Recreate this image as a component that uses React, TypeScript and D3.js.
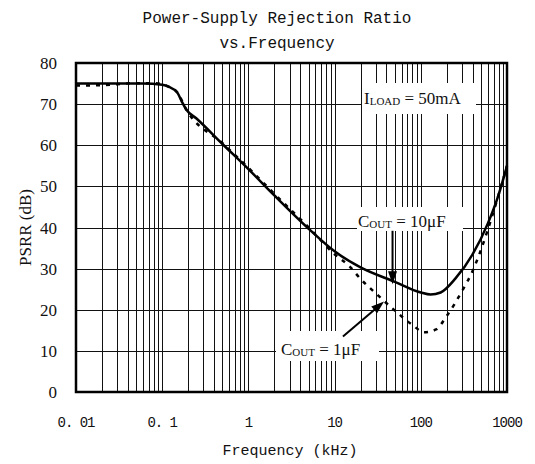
import React from "react";
import * as d3 from "d3";

// Frequency (kHz) and PSRR (dB)
const freq10uF = [0.01, 0.03, 0.06, 0.1, 0.12, 0.15, 0.17, 0.19, 0.25, 0.5, 1, 2, 5, 10, 20, 50, 100, 130, 170, 250, 400, 600, 800, 1000];
const psrr10uF = [75, 75, 75, 74.7, 74.2, 72.8, 70.5, 68.7, 66.5, 60.3, 54.2, 47.8, 39.7, 34.2, 30.3, 26.8, 24.2, 23.7, 24.2, 27.5, 33.5, 41, 48, 55];

const freq1uF = [0.01, 0.02, 0.05, 0.08, 0.1, 0.12, 0.15, 0.19, 0.5, 1, 2, 5, 10, 15, 20, 30, 50, 80, 110, 150, 200, 300, 400, 600, 800, 1000];
const psrr1uF = [74.5, 74.6, 75.1, 75.1, 74.8, 74.2, 72.8, 68.7, 60.5, 54.5, 48.2, 40, 33.5, 30.5, 27.5, 24, 19.8, 16.3, 14.5, 15.2, 18.5, 24.5, 29.5, 39.5, 48, 55];

const xTicks = [0.01, 0.1, 1, 10, 100, 1000];
const xTickLabels = ["0. 01", "0. 1", "1", "10", "100", "1000"];
const yTicks = [0, 10, 20, 30, 40, 50, 60, 70, 80];

const W = 535, H = 464;
const M = { left: 76, right: 507, top: 63, bottom: 392 };

export default function App() {
  const x = d3.scaleLog().domain([0.01, 1000]).range([M.left, M.right]);
  const y = d3.scaleLinear().domain([0, 80]).range([M.bottom, M.top]);

  const minor: number[] = [];
  for (let k = -2; k < 3; k++) {
    for (let m = 1; m <= 9; m++) minor.push(m * Math.pow(10, k));
  }
  minor.push(1000);

  const line = d3
    .line<[number, number]>()
    .x((d) => x(d[0]))
    .y((d) => y(d[1]))
    .curve(d3.curveMonotoneX);

  const solid = line(freq10uF.map((f, i) => [f, psrr10uF[i]] as [number, number])) || "";
  const dotted = line(freq1uF.map((f, i) => [f, psrr1uF[i]] as [number, number])) || "";

  const px = (v: number) => Math.round(v) + 0.5;

  // annotation anchors in data space
  const a1x = x(47), a1y0 = y(39.2), a1y1 = y(26.2);
  const a2x0 = x(12.5), a2y0 = y(13.5), a2x1 = x(37.5), a2y1 = y(22);

  const head = (x0: number, y0: number, x1: number, y1: number, len = 13, w = 4.5) => {
    const ang = Math.atan2(y1 - y0, x1 - x0);
    const bx = x1 - len * Math.cos(ang), by = y1 - len * Math.sin(ang);
    const nx = -Math.sin(ang) * w, ny = Math.cos(ang) * w;
    return `M${x1},${y1}L${bx + nx},${by + ny}L${bx - nx},${by - ny}Z`;
  };
  const shorten = (x0: number, y0: number, x1: number, y1: number, s: number) => {
    const ang = Math.atan2(y1 - y0, x1 - x0);
    return [x1 - s * Math.cos(ang), y1 - s * Math.sin(ang)];
  };
  const [a1ex, a1ey] = shorten(a1x, a1y0, a1x, a1y1, 10);
  const [a2ex, a2ey] = shorten(a2x0, a2y0, a2x1, a2y1, 10);

  const serif = "'Liberation Serif', 'Times New Roman', serif";
  const mono = "'Liberation Mono', monospace";

  return (
    <svg width={W} height={H} style={{ position: "absolute", left: 0, top: 0, background: "#fff" }}>
      <rect x={0} y={0} width={W} height={H} fill="#fff" />
      {/* title */}
      <text x={277} y={23} textAnchor="middle" fontFamily={mono} fontSize={16} fill="#111">
        Power-Supply Rejection Ratio
      </text>
      <text x={277} y={48} textAnchor="middle" fontFamily={mono} fontSize={16} fill="#111">
        vs.Frequency
      </text>

      {/* grid */}
      {minor.map((f, i) => (
        <line key={"v" + i} x1={px(x(f))} x2={px(x(f))} y1={M.top} y2={M.bottom} stroke="#111" strokeWidth={1} />
      ))}
      {yTicks.slice(1, -1).map((t) => (
        <line key={"h" + t} x1={M.left} x2={M.right} y1={px(y(t))} y2={px(y(t))} stroke="#111" strokeWidth={1} />
      ))}

      {/* label boxes */}
      <rect x={362} y={83} width={114} height={31} fill="#fff" />
      <rect x={357} y={207} width={106} height={24} fill="#fff" />
      <rect x={276} y={331} width={103} height={30} fill="#fff" />

      {/* frame */}
      <rect x={M.left} y={M.top} width={M.right - M.left} height={M.bottom - M.top} fill="none" stroke="#000" strokeWidth={2.5} />

      {/* curves */}
      <path d={dotted} fill="none" stroke="#000" strokeWidth={2.5} strokeDasharray="4,6" />
      <path d={solid} fill="none" stroke="#000" strokeWidth={2.5} />

      {/* arrows */}
      <line x1={a1x} y1={a1y0} x2={a1ex} y2={a1ey} stroke="#000" strokeWidth={2} />
      <path d={head(a1x, a1y0, a1x, a1y1)} fill="#000" />
      <line x1={a2x0} y1={a2y0} x2={a2ex} y2={a2ey} stroke="#000" strokeWidth={2} />
      <path d={head(a2x0, a2y0, a2x1, a2y1)} fill="#000" />

      {/* annotations */}
      <text x={364} y={104} fontFamily={serif} fontSize={17} fill="#111">
        I<tspan fontSize={11} dy={1}>LOAD</tspan>
        <tspan dy={-1}> = 50mA</tspan>
      </text>
      <text x={358} y={227} fontFamily={serif} fontSize={17} fill="#111">
        C<tspan fontSize={11} dy={1}>OUT</tspan>
        <tspan dy={-1}> = 10μF</tspan>
      </text>
      <text x={281} y={355} fontFamily={serif} fontSize={17} fill="#111">
        C<tspan fontSize={11} dy={1}>OUT</tspan>
        <tspan dy={-1}> = 1μF</tspan>
      </text>

      {/* y ticks */}
      {yTicks.map((t) => (
        <text key={"yt" + t} x={57} y={y(t) + 6} textAnchor="end" fontFamily={serif} fontSize={17} fill="#111">
          {t}
        </text>
      ))}
      <text
        transform={`translate(31,${(M.top + M.bottom) / 2}) rotate(-90)`}
        textAnchor="middle"
        fontFamily={serif}
        fontSize={17}
        fill="#111"
      >
        PSRR (dB)
      </text>

      {/* x ticks */}
      {xTicks.map((t, i) => (
        <text key={"xt" + t} x={x(t)} y={427} textAnchor="middle" fontFamily={mono} fontSize={14} letterSpacing={-1} fill="#111">
          {xTickLabels[i]}
        </text>
      ))}
      <text x={290} y={455} textAnchor="middle" fontFamily={mono} fontSize={15} fill="#111">
        Frequency (kHz)
      </text>
    </svg>
  );
}
